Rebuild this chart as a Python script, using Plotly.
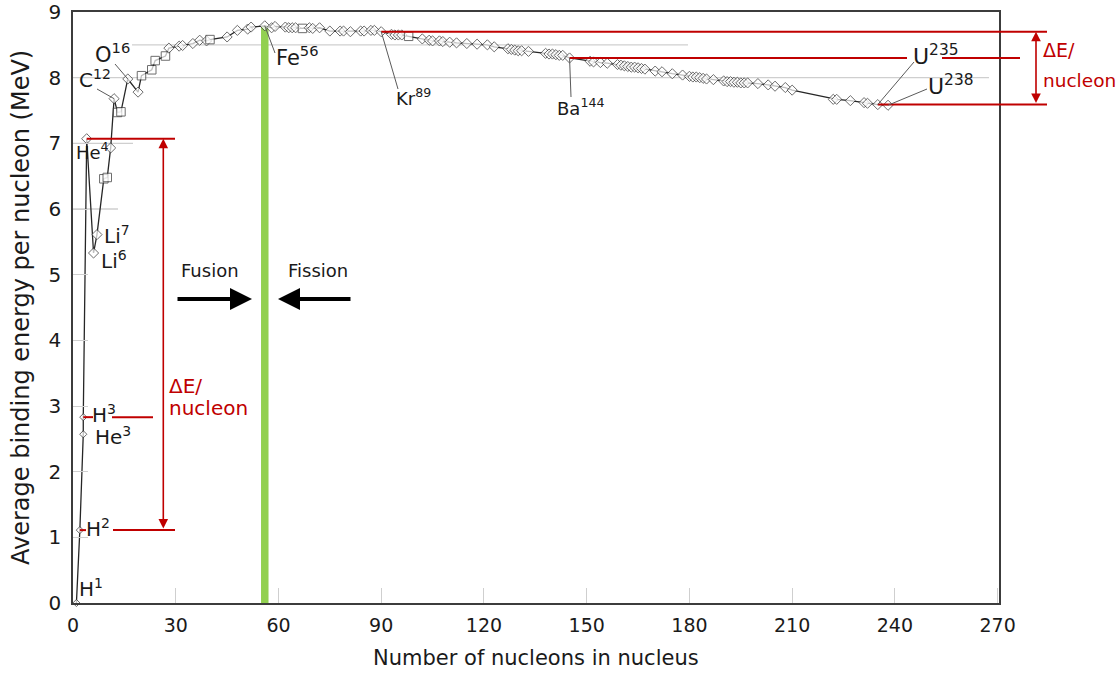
import plotly.graph_objects as go

# ---------------- data ----------------
mass = [1, 2, 3, 3, 4, 6, 7, 9, 10, 11,
        12, 13, 14, 16, 19, 20, 23, 24, 27, 28,
        31, 32, 35, 37, 39, 40, 45, 48, 51, 52,
        56, 58, 59, 62, 63, 64, 65, 67, 69, 70,
        72, 75, 78, 79, 81, 84, 85, 87, 88, 90,
        93, 94, 95, 96, 98, 102, 104, 105, 107, 108,
        110, 112, 115, 118, 121, 123, 127, 128, 129, 130,
        131, 133, 138, 139, 140, 141, 142, 143, 145, 151,
        152, 154, 156, 159, 160, 161, 162, 163, 164, 165,
        166, 167, 170, 172, 175, 178, 180, 181, 182, 183,
        184, 185, 187, 190, 191, 192, 193, 194, 195, 196,
        197, 200, 203, 205, 208, 210, 222, 223, 227, 231,
        232, 235, 238]
binding = [0.00, 1.11, 2.57, 2.83, 7.07, 5.33, 5.61, 6.46, 6.48, 6.93,
           7.68, 7.47, 7.48, 7.98, 7.78, 8.03, 8.12, 8.26, 8.33, 8.45,
           8.48, 8.49, 8.52, 8.57, 8.56, 8.58, 8.62, 8.72, 8.74, 8.77,
           8.79, 8.76, 8.78, 8.77, 8.76, 8.76, 8.76, 8.75, 8.76, 8.75,
           8.76, 8.71, 8.71, 8.71, 8.70, 8.71, 8.71, 8.72, 8.72, 8.70,
           8.66, 8.65, 8.65, 8.65, 8.63, 8.59, 8.57, 8.56, 8.56, 8.55,
           8.54, 8.53, 8.52, 8.51, 8.50, 8.47, 8.44, 8.43, 8.42, 8.41,
           8.41, 8.40, 8.37, 8.36, 8.36, 8.35, 8.34, 8.34, 8.30, 8.25,
           8.24, 8.23, 8.22, 8.20, 8.19, 8.18, 8.17, 8.16, 8.16, 8.15,
           8.14, 8.13, 8.10, 8.09, 8.06, 8.04, 8.02, 8.01, 8.01, 8.00,
           7.99, 7.98, 7.97, 7.95, 7.94, 7.94, 7.93, 7.93, 7.92, 7.92,
           7.92, 7.91, 7.89, 7.87, 7.85, 7.81, 7.67, 7.67, 7.65, 7.62,
           7.61, 7.59, 7.58]
square_masses = [9, 10, 13, 14, 20, 23, 24, 27, 40, 67, 98]
small_marker_count = 4  # H1, H2, He3, H3 drawn smaller

x_ticks = [0, 30, 60, 90, 120, 150, 180, 210, 240, 270]
y_ticks = [0, 1, 2, 3, 4, 5, 6, 7, 8, 9]

# index of labelled nuclides in the arrays
I_H1, I_H2, I_HE3, I_H3, I_HE4, I_LI6, I_LI7 = 0, 1, 2, 3, 4, 5, 6
I_C12 = mass.index(12)
I_O16 = mass.index(16)
I_FE56 = mass.index(56)
I_KR = mass.index(90)
I_BA = mass.index(145)
I_U235 = mass.index(235)
I_U238 = mass.index(238)

# ---------------- geometry helpers ----------------
W, H = 1120, 673
PL, PR, PT, PB = 73, 999, 12, 603
XMAX, YMAX = 270.4, 9.0

def px_x(px):
    return (px - PL) / (PR - PL)

def px_y(py):
    return (PB - py) / (PB - PT)

def dx(a):
    return a / XMAX

def dy(v):
    return v / YMAX

FONT = "DejaVu Sans, Arial, sans-serif"
RED = "#C00000"
GRID = "#cfcfcf"
LEADER = "#5a5a5a"
TXT = "#1a1a1a"

symbols = ["square" if m in square_masses else "diamond" for m in mass]
sizes = [5.5 if i < small_marker_count else (8.5 if symbols[i] == "square" else 7.8)
         for i in range(len(mass))]

fig = go.Figure()
fig.add_trace(go.Scatter(
    x=mass, y=binding, mode="lines+markers",
    line=dict(color="#262626", width=1.3),
    marker=dict(symbol=symbols, size=sizes, color="white",
                line=dict(color="#303030", width=1)),
    hoverinfo="x+y", showlegend=False, cliponaxis=False))

shapes = []

def seg(x0, y0, x1, y1, color, width, layer="above"):
    shapes.append(dict(type="line", xref="paper", yref="paper",
                       x0=x0, y0=y0, x1=x1, y1=y1,
                       line=dict(color=color, width=width), layer=layer))

# partial light grid lines
seg(0, dy(6), px_x(118), dy(6), GRID, 1.3, "below")
seg(0, dy(7), px_x(133), dy(7), GRID, 1.3, "below")
seg(0, dy(8), px_x(989), dy(8), GRID, 1.3, "below")
seg(px_x(132), dy(8.5), px_x(688), dy(8.5), GRID, 1.3, "below")

# green Fe line
seg(dx(mass[I_FE56]), 0, dx(mass[I_FE56]), dy(binding[I_FE56]), "#92D050", 7.5, "below")

# red reference lines
yHe4, yH2, yH3 = binding[I_HE4], binding[I_H2], binding[I_H3]
seg(dx(mass[I_HE4]), dy(yHe4), px_x(175), dy(yHe4), RED, 2)
seg(dx(mass[I_H2]), dy(yH2), px_x(86), dy(yH2), RED, 2)
seg(px_x(113), dy(yH2), px_x(175), dy(yH2), RED, 2)
seg(dx(mass[I_H3]), dy(yH3), px_x(93), dy(yH3), RED, 2)
seg(px_x(112), dy(yH3), px_x(153), dy(yH3), RED, 2)
yKr, yBa, yU = binding[I_KR], binding[I_BA], binding[I_U235]
seg(dx(mass[I_KR]), dy(yKr), px_x(1047), dy(yKr), RED, 2)
seg(dx(mass[I_BA]), dy(yBa), px_x(907), dy(yBa), RED, 2)
seg(px_x(942), dy(yBa), px_x(1020), dy(yBa), RED, 2)
seg(dx(mass[I_U235]), dy(yU), px_x(1047), dy(yU), RED, 2)

# leader lines from labels to points
def leader(i, px, py):
    seg(dx(mass[i]), dy(binding[i]), px_x(px), px_y(py), LEADER, 1)

leader(I_C12, 97, 89)
leader(I_O16, 115, 64)
leader(I_FE56, 275, 53)
leader(I_KR, 398, 89)
leader(I_BA, 571, 97)
leader(I_U235, 914, 62)
leader(I_U238, 927, 89)

annotations = []

def label(text, px, py, size=20, color=TXT, xanchor="center"):
    annotations.append(dict(text=text, xref="paper", yref="paper",
                            x=px_x(px), y=px_y(py), xanchor=xanchor, yanchor="middle",
                            showarrow=False, font=dict(family=FONT, size=size, color=color)))

label("H<sup>1</sup>", 91, 588)
label("H<sup>2</sup>", 98, 528)
label("H<sup>3</sup>", 104, 414)
label("He<sup>3</sup>", 113, 436)
label("He<sup>4</sup>", 92, 151, size=18)
label("Li<sup>7</sup>", 117, 235)
label("Li<sup>6</sup>", 114, 260)
label("C<sup>12</sup>", 95, 79, size=20)
label("O<sup>16</sup>", 112, 53, size=21)
label("Fe<sup>56</sup>", 297, 56, size=21)
label("Kr<sup>89</sup>", 413, 97, size=18)
label("Ba<sup>144</sup>", 580, 107, size=18)
label("U<sup>235</sup>", 936, 55, size=22)
label("U<sup>238</sup>", 951, 85, size=22)

label("Fusion", 210, 270, size=18)
label("Fission", 318, 270, size=18)

label("ΔE/", 167, 386, size=20, color=RED, xanchor="left")
label("nucleon", 167, 408, size=20, color=RED, xanchor="left")
label("ΔE/", 1041, 50, size=19, color=RED, xanchor="left")
label("nucleon", 1041, 80, size=18.5, color=RED, xanchor="left")

# axis titles
annotations.append(dict(text="Average binding energy per nucleon (MeV)", xref="paper", yref="paper",
                        x=px_x(21), y=px_y(308), xanchor="center", yanchor="middle",
                        textangle=-90, showarrow=False,
                        font=dict(family=FONT, size=24, color=TXT)))
annotations.append(dict(text="Number of nucleons in nucleus", xref="paper", yref="paper",
                        x=px_x(536), y=px_y(658), xanchor="center", yanchor="middle",
                        showarrow=False, font=dict(family=FONT, size=21, color=TXT)))

# black fusion / fission arrows
def arrow(hx, hy, tx, ty, color, width, size, both=False):
    annotations.append(dict(text="", xref="paper", yref="paper",
                            x=px_x(hx), y=px_y(hy), axref="pixel", ayref="pixel",
                            ax=tx - hx, ay=ty - hy, showarrow=True,
                            arrowhead=2, arrowwidth=width, arrowsize=size,
                            arrowcolor=color, startarrowhead=2, startarrowsize=size,
                            arrowside="end+start" if both else "end"))

arrow(252, 299, 176, 299, "black", 4, 1.1)
arrow(278, 299, 352, 299, "black", 4, 1.1)

# red double-headed arrows (anchored on the data values)
ppu = (PB - PT) / YMAX
arrow(163.3, PB - yHe4 * ppu, 163.3, PB - yH2 * ppu, RED, 1.6, 1.2, both=True)
arrow(1036, PB - yKr * ppu, 1036, PB - yU * ppu, RED, 1.6, 1.2, both=True)

fig.update_layout(
    width=W, height=H, autosize=False,
    margin=dict(l=PL, r=W - PR, t=PT, b=H - PB, pad=0),
    paper_bgcolor="white", plot_bgcolor="white",
    shapes=shapes, annotations=annotations,
    font=dict(family=FONT, color=TXT),
    xaxis=dict(range=[0, XMAX], tickvals=x_ticks, ticktext=[str(v) for v in x_ticks],
               showgrid=False, zeroline=False, showline=True, mirror=True,
               linecolor="#3c3c3c", linewidth=1.5, automargin=False,
               ticks="inside", ticklen=15, tickwidth=1.3, tickcolor=GRID,
               tickfont=dict(family=FONT, size=19, color=TXT), ticklabelstandoff=4),
    yaxis=dict(range=[0, YMAX], tickvals=y_ticks, ticktext=[str(v) for v in y_ticks],
               showgrid=False, zeroline=False, showline=True, mirror=True,
               linecolor="#3c3c3c", linewidth=1.5, automargin=False,
               ticks="inside", ticklen=15, tickwidth=1.3, tickcolor=GRID,
               tickfont=dict(family=FONT, size=20, color=TXT), ticklabelstandoff=6),
)

fig.write_html("out.html", config={"displayModeBar": False},
               post_script="document.body.style.margin='0';")
